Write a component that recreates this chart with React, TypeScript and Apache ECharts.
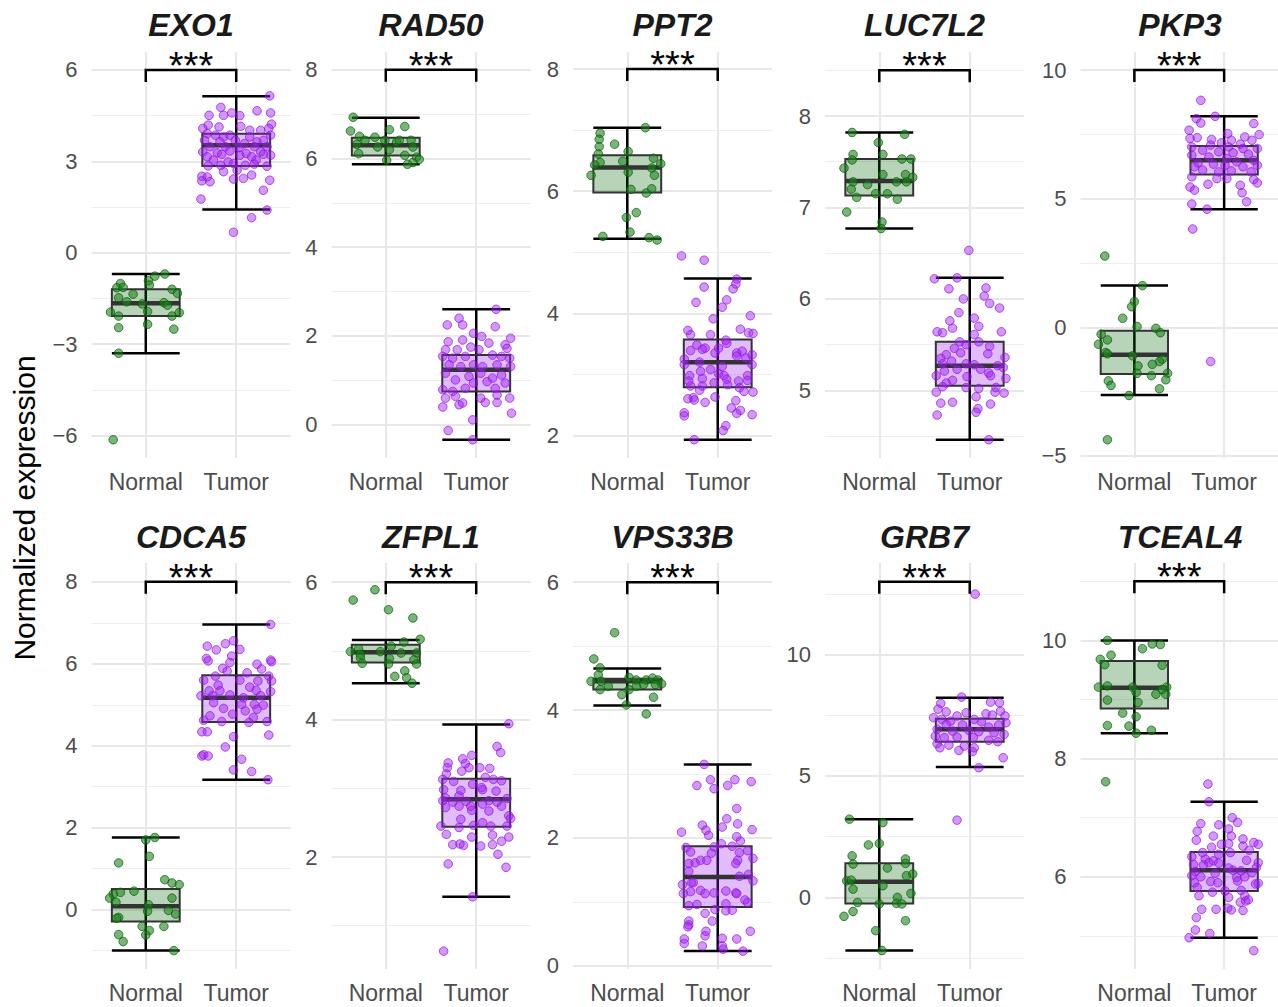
import { useEffect, useRef } from "react";
import * as echarts from "echarts";

// ---------- data ----------
const genes = ["EXO1", "RAD50", "PPT2", "LUC7L2", "PKP3", "CDCA5", "ZFPL1", "VPS33B", "GRB7", "TCEAL4"];
const groups = ["Normal", "Tumor"];
const yMin = [-6.74, -0.75, 1.63, 4.26, -5.08, -1.45, 0.37, -0.05, -2.95, 4.44];
const yMax = [6.59, 8.4, 8.28, 8.7, 10.7, 8.46, 6.28, 6.3, 13.77, 11.31];
const yStep = [3, 2, 2, 1, 5, 2, 2, 2, 5, 2];
const bracketY = [6, 8, 8, 8.5, 10, 8, 6, 6, 13, 11];
const significance = ["***", "***", "***", "***", "***", "***", "***", "***", "***", "***"];

// whisker low, Q1, median, Q3, whisker high
const normalBox = [
  [-3.3, -2.08, -1.66, -1.2, -0.7],
  [5.87, 6.07, 6.3, 6.47, 6.92],
  [5.22, 5.98, 6.39, 6.59, 7.04],
  [6.77, 7.13, 7.29, 7.53, 7.82],
  [-2.63, -1.82, -1.07, -0.13, 1.62],
  [-1.0, -0.29, 0.08, 0.5, 1.76],
  [4.53, 4.83, 4.98, 5.09, 5.16],
  [4.07, 4.32, 4.45, 4.49, 4.65],
  [-2.19, -0.25, 0.64, 1.41, 3.22],
  [8.43, 8.85, 9.2, 9.65, 10.0],
];
const tumorBox = [
  [1.42, 2.85, 3.53, 3.91, 5.14],
  [-0.34, 0.75, 1.24, 1.57, 2.6],
  [1.93, 2.79, 3.2, 3.57, 4.57],
  [4.46, 5.05, 5.27, 5.53, 6.23],
  [4.59, 5.94, 6.49, 7.05, 8.2],
  [3.17, 4.58, 5.17, 5.72, 6.96],
  [1.42, 2.44, 2.84, 3.14, 3.93],
  [0.23, 0.92, 1.39, 1.87, 3.15],
  [5.37, 6.41, 6.92, 7.36, 8.22],
  [4.97, 5.76, 6.11, 6.42, 7.27],
];

// points: [jitter offset from group centre, value]
const EXO1_N = [[0.21,-0.7],[0.1,-0.77],[0.03,-0.92],[-0.28,-1.01],[0.04,-1.06],[-0.32,-1.15],[-0.25,-1.14],[-0.14,-1.36],[0.29,-1.2],[0.35,-1.33],[-0.3,-1.48],[0.2,-1.64],[-0.04,-1.68],[0.24,-1.72],[-0.39,-1.95],[-0.3,-2.08],[0.02,-1.93],[0.37,-1.97],[0.29,-2.08],[0.02,-2.35],[-0.3,-2.46],[0.31,-2.51],[-0.3,-3.3],[-0.36,-6.14],[-0.21,-1.61]];
const EXO1_T = [[0.37,5.15],[0.38,4.59],[-0.17,4.77],[-0.3,4.51],[-0.14,4.51],[-0.05,4.59],[0.04,4.5],[0.23,4.66],[0.39,4.22],[-0.31,4.19],[-0.19,4.13],[-0.37,4.08],[0.05,4.15],[0.15,4.02],[0.27,4.02],[0.36,4.08],[-0.32,3.91],[-0.23,3.86],[-0.14,3.8],[-0.07,3.86],[0.15,3.8],[0.38,3.86],[-0.35,3.69],[-0.18,3.64],[-0.01,3.69],[0.09,3.58],[0.23,3.64],[0.3,3.69],[-0.29,3.48],[-0.12,3.48],[0.03,3.45],[0.2,3.48],[0.34,3.48],[-0.37,3.31],[-0.21,3.28],[-0.07,3.34],[0.11,3.26],[0.27,3.31],[0.38,3.2],[-0.32,3.15],[-0.16,3.23],[0.04,3.2],[0.17,3.15],[0.3,3.23],[-0.25,3.04],[-0.09,2.98],[0.22,3.04],[-0.31,2.85],[-0.17,2.87],[-0.03,2.93],[0.1,2.87],[0.2,2.91],[0.34,2.84],[-0.14,2.66],[0.01,2.71],[0.17,2.55],[-0.38,2.51],[-0.32,2.49],[-0.03,2.42],[0.08,2.44],[-0.38,2.36],[-0.29,2.33],[0.37,2.38],[0.3,2.05],[-0.39,1.76],[0.34,1.4],[0.17,1.15],[-0.03,0.67]];
const RAD50_N = [[-0.36,6.93],[-0.39,6.62],[0.21,6.72],[0.04,6.65],[-0.29,6.5],[-0.12,6.48],[-0.01,6.41],[-0.23,6.41],[0.12,6.37],[0.28,6.41],[-0.32,6.32],[-0.09,6.26],[0.04,6.2],[0.3,6.26],[-0.3,6.11],[0.21,6.07],[0.34,6.03],[0.01,5.96],[0.37,5.98],[0.3,5.91],[0.24,5.87],[0.15,6.41]];
const RAD50_T = [[0.22,2.6],[-0.19,2.4],[-0.32,2.25],[-0.15,2.25],[0.21,2.21],[-0.03,2.06],[0.06,1.99],[-0.15,1.91],[-0.31,1.87],[0.38,1.95],[0.14,1.84],[0.32,1.8],[-0.06,1.75],[-0.21,1.69],[-0.34,1.69],[0.03,1.69],[0.34,1.72],[-0.37,1.54],[-0.26,1.5],[-0.12,1.54],[0.18,1.57],[0.28,1.54],[0.37,1.5],[-0.3,1.35],[-0.17,1.31],[-0.03,1.35],[0.07,1.31],[0.23,1.35],[0.38,1.31],[-0.34,1.16],[-0.08,1.09],[0.05,1.16],[0.18,1.05],[0.28,1.12],[-0.23,1.01],[-0.03,0.94],[0.12,0.97],[0.32,0.94],[-0.37,0.79],[-0.26,0.75],[-0.12,0.82],[0.21,0.82],[0.23,0.67],[-0.34,0.6],[-0.23,0.64],[0.05,0.6],[0.37,0.6],[0.1,0.5],[-0.15,0.49],[-0.19,0.45],[0.23,0.5],[-0.37,0.4],[0.39,0.26],[-0.04,0.11],[-0.31,-0.13],[-0.04,-0.34]];
const PPT2_N = [[0.2,7.04],[-0.3,6.95],[-0.31,6.85],[-0.31,6.73],[-0.14,6.77],[0.01,6.65],[-0.32,6.61],[0.29,6.54],[-0.05,6.49],[-0.3,6.47],[-0.36,6.43],[0.37,6.45],[0.27,6.38],[0.01,6.31],[-0.4,6.26],[0.3,6.26],[0.04,6.03],[0.27,6.04],[0.21,5.97],[0.1,5.65],[-0.01,5.57],[0.03,5.33],[-0.27,5.26],[0.24,5.24],[0.33,5.2]];
const PPT2_T = [[-0.4,4.94],[-0.15,4.87],[0.21,4.56],[0.2,4.48],[0.17,4.4],[-0.15,4.43],[0.1,4.22],[-0.24,4.18],[0.05,4.1],[0.36,3.96],[-0.05,3.91],[0.25,3.74],[-0.33,3.72],[-0.3,3.65],[-0.08,3.65],[0.34,3.68],[0.39,3.67],[0.09,3.56],[-0.23,3.48],[-0.14,3.43],[-0.3,3.39],[-0.17,3.41],[0.01,3.43],[0.1,3.51],[0.27,3.38],[0.21,3.35],[0.38,3.32],[-0.37,3.25],[-0.03,3.35],[-0.2,3.2],[0.31,3.27],[0.21,3.3],[-0.37,3.16],[0.38,3.16],[0.05,3.13],[-0.08,3.08],[-0.19,3.05],[0.01,3.01],[-0.31,2.98],[0.07,2.98],[0.33,2.98],[-0.17,2.93],[-0.32,2.89],[0.1,2.92],[0.23,2.89],[0.33,2.9],[-0.04,2.86],[-0.3,2.81],[-0.17,2.81],[0.11,2.83],[0.24,2.78],[0.39,2.71],[0.29,2.72],[-0.2,2.74],[-0.27,2.62],[-0.33,2.6],[-0.26,2.58],[-0.14,2.54],[-0.03,2.63],[0.2,2.57],[0.15,2.45],[0.25,2.41],[0.21,2.36],[-0.37,2.37],[-0.37,2.32],[0.38,2.34],[0.09,2.16],[0.06,2.08],[-0.26,1.93]];
const LUC7L2_N = [[-0.3,7.82],[0.28,7.8],[-0.01,7.71],[-0.29,7.58],[0.04,7.58],[-0.3,7.52],[0.25,7.53],[0.35,7.53],[-0.39,7.43],[0.04,7.36],[0.29,7.36],[-0.29,7.28],[0.19,7.28],[0.37,7.33],[-0.13,7.25],[0.3,7.28],[-0.31,7.2],[-0.04,7.15],[0.09,7.15],[-0.25,7.11],[0.2,7.09],[-0.36,6.95],[0.03,6.84],[0.02,6.77]];
const LUC7L2_T = [[-0.01,6.53],[-0.39,6.22],[-0.14,6.23],[-0.23,6.11],[0.18,6.12],[0.16,6.03],[-0.07,6.0],[0.22,5.95],[0.33,5.9],[-0.12,5.85],[0.05,5.79],[-0.22,5.76],[0.1,5.7],[-0.19,5.68],[-0.36,5.64],[-0.3,5.63],[0.35,5.64],[0.05,5.61],[-0.11,5.53],[0.1,5.53],[0.22,5.48],[-0.17,5.46],[-0.04,5.5],[-0.26,5.39],[-0.1,5.41],[0.2,5.4],[-0.32,5.35],[0.39,5.36],[-0.2,5.32],[-0.3,5.29],[-0.04,5.29],[0.05,5.28],[0.31,5.27],[0.37,5.25],[-0.14,5.23],[0.12,5.23],[0.21,5.19],[-0.37,5.16],[-0.28,5.21],[-0.03,5.15],[0.23,5.16],[0.4,5.13],[-0.19,5.11],[-0.26,5.08],[-0.3,5.04],[-0.04,5.03],[0.1,5.02],[0.29,5.03],[-0.37,4.98],[0.28,4.98],[0.38,4.97],[0.07,4.93],[-0.32,4.86],[-0.19,4.87],[0.23,4.85],[0.09,4.8],[0.07,4.76],[-0.36,4.73],[0.21,4.46]];
const PKP3_N = [[-0.33,2.77],[0.09,1.62],[0.0,1.0],[-0.03,0.8],[-0.13,0.35],[0.03,0.03],[0.24,-0.04],[-0.37,-0.27],[0.29,-0.21],[-0.3,-0.49],[-0.4,-0.66],[-0.32,-0.98],[-0.3,-1.03],[-0.02,-1.11],[0.31,-1.24],[0.28,-1.33],[0.04,-1.5],[0.2,-1.44],[0.37,-1.79],[0.03,-1.79],[0.19,-1.88],[-0.29,-2.08],[-0.26,-2.26],[0.35,-2.04],[0.28,-2.39],[-0.06,-2.65],[-0.3,-4.37]];
const PKP3_T = [[-0.26,8.82],[-0.1,8.2],[-0.31,8.11],[-0.26,7.94],[-0.39,7.66],[0.33,7.92],[0.39,7.49],[0.04,7.53],[-0.38,7.34],[-0.3,7.37],[-0.14,7.3],[0.23,7.4],[0.08,7.27],[0.31,7.27],[-0.03,7.17],[-0.15,7.08],[0.18,7.12],[-0.36,7.01],[0.05,7.01],[0.21,6.95],[0.37,6.95],[-0.24,6.88],[-0.06,6.82],[0.1,6.78],[-0.36,6.69],[-0.17,6.62],[0.27,6.73],[0.03,6.56],[-0.29,6.39],[0.14,6.43],[0.33,6.49],[-0.12,6.34],[-0.33,6.24],[0.01,6.3],[0.21,6.24],[0.37,6.3],[-0.24,6.11],[-0.06,6.04],[0.08,6.08],[0.3,6.04],[-0.36,5.85],[-0.08,5.78],[0.03,5.78],[0.33,5.74],[0.37,5.61],[-0.38,5.45],[-0.33,5.33],[-0.18,5.56],[0.18,5.52],[0.2,5.23],[0.25,4.88],[-0.36,4.79],[-0.19,4.59],[-0.35,3.82],[-0.15,-1.33]];
const CDCA5_N = [[0.1,1.76],[0.0,1.7],[0.04,1.3],[-0.3,1.14],[0.21,0.73],[0.29,0.65],[0.37,0.61],[-0.13,0.45],[-0.28,0.42],[-0.36,0.38],[-0.4,0.28],[0.29,0.28],[-0.33,0.18],[0.03,0.12],[0.25,-0.02],[0.02,-0.04],[0.33,-0.11],[-0.3,-0.19],[-0.32,-0.21],[-0.04,-0.41],[0.04,-0.51],[0.2,-0.41],[-0.3,-0.61],[-0.25,-0.78],[0.0,-0.62],[0.31,-1.0]];
const CDCA5_T = [[0.38,6.96],[-0.03,6.56],[-0.12,6.49],[-0.32,6.43],[-0.22,6.34],[0.04,6.35],[-0.05,6.19],[-0.33,6.13],[-0.31,6.07],[0.38,6.09],[0.39,6.05],[-0.07,6.03],[0.23,5.99],[-0.15,5.89],[0.28,5.87],[-0.1,5.82],[0.12,5.78],[-0.36,5.6],[-0.23,5.7],[0.36,5.7],[0.39,5.58],[-0.2,5.48],[0.04,5.6],[0.24,5.58],[0.15,5.43],[-0.3,5.34],[-0.18,5.34],[0.22,5.35],[0.38,5.32],[-0.39,5.22],[-0.26,5.22],[-0.07,5.24],[0.27,5.22],[-0.25,5.05],[0.08,5.17],[0.06,5.01],[0.2,5.01],[0.3,4.99],[-0.14,4.91],[0.1,4.85],[0.23,4.89],[-0.29,4.73],[-0.04,4.77],[0.19,4.69],[-0.36,4.62],[-0.16,4.59],[0.14,4.57],[0.34,4.59],[-0.38,4.34],[-0.32,4.34],[0.36,4.26],[-0.03,4.22],[-0.12,3.97],[-0.38,3.75],[-0.36,3.78],[-0.31,3.75],[0.06,3.67],[-0.03,3.41],[0.17,3.37],[0.35,3.17]];
const ZFPL1_N = [[-0.12,5.89],[-0.36,5.74],[0.03,5.6],[0.3,5.48],[0.38,5.17],[0.2,5.13],[0.06,5.07],[-0.39,4.99],[-0.3,5.03],[-0.28,4.95],[-0.06,4.99],[0.17,4.97],[0.34,4.97],[-0.28,4.9],[0.04,4.89],[-0.26,4.82],[0.31,4.87],[0.34,4.81],[0.03,4.81],[0.21,4.71],[0.1,4.63],[0.23,4.61],[0.29,4.53]];
const ZFPL1_T = [[0.36,3.94],[0.23,3.61],[0.27,3.52],[-0.05,3.48],[-0.15,3.43],[-0.31,3.37],[-0.12,3.36],[-0.32,3.3],[-0.08,3.3],[-0.16,3.25],[0.04,3.3],[0.15,3.29],[-0.33,3.21],[0.1,3.16],[0.19,3.13],[-0.37,3.13],[0.28,3.11],[-0.25,3.1],[-0.04,3.06],[0.06,3.01],[0.22,2.96],[-0.36,2.98],[-0.17,2.97],[0.07,2.98],[-0.19,2.89],[-0.34,2.86],[0.34,2.85],[-0.37,2.82],[-0.26,2.8],[-0.11,2.81],[0.14,2.82],[0.23,2.8],[-0.06,2.74],[-0.19,2.74],[0.07,2.77],[-0.34,2.72],[0.28,2.74],[-0.05,2.68],[0.14,2.67],[0.36,2.6],[0.38,2.56],[-0.17,2.55],[0.07,2.5],[-0.03,2.46],[-0.39,2.45],[-0.19,2.43],[0.16,2.45],[0.34,2.45],[0.18,2.32],[0.36,2.29],[-0.05,2.29],[-0.33,2.33],[0.28,2.23],[0.18,2.18],[-0.26,2.18],[-0.18,2.19],[0.05,2.16],[-0.14,2.17],[0.24,2.04],[-0.31,1.9],[0.33,1.85],[-0.04,1.42],[-0.36,0.63]];
const VPS33B_N = [[-0.14,5.21],[-0.37,4.8],[-0.3,4.66],[-0.32,4.55],[-0.4,4.45],[-0.29,4.45],[0.02,4.51],[0.1,4.47],[0.21,4.47],[0.28,4.5],[0.34,4.47],[0.38,4.41],[0.31,4.4],[0.18,4.4],[0.1,4.37],[-0.21,4.37],[-0.3,4.32],[0.02,4.32],[-0.06,4.24],[0.29,4.2],[-0.01,4.08],[0.21,3.94]];
const VPS33B_T = [[-0.15,3.15],[-0.08,2.91],[0.19,2.91],[-0.23,2.82],[0.37,2.88],[-0.04,2.77],[0.11,2.82],[0.21,2.46],[0.1,2.3],[-0.17,2.2],[0.22,2.22],[0.05,2.17],[-0.13,2.12],[0.38,2.13],[-0.4,2.09],[-0.1,2.04],[0.21,2.02],[0.25,1.95],[0.04,1.91],[0.16,1.87],[-0.04,1.86],[-0.35,1.85],[0.33,1.8],[-0.3,1.78],[-0.07,1.76],[0.24,1.77],[-0.19,1.65],[-0.25,1.61],[-0.32,1.6],[0.22,1.65],[0.2,1.6],[0.39,1.68],[-0.12,1.65],[-0.32,1.48],[0.24,1.4],[0.34,1.43],[-0.29,1.3],[-0.27,1.3],[0.39,1.33],[-0.39,1.27],[-0.19,1.18],[-0.3,1.16],[-0.38,1.13],[-0.14,1.13],[-0.04,1.14],[0.09,1.17],[0.2,1.14],[0.21,1.13],[0.3,1.03],[0.33,0.99],[-0.23,0.96],[-0.32,0.94],[0.09,0.97],[-0.03,0.88],[0.09,0.86],[0.16,0.87],[-0.14,0.82],[-0.32,0.7],[-0.06,0.7],[-0.32,0.64],[-0.33,0.61],[-0.13,0.54],[0.36,0.54],[-0.14,0.47],[-0.37,0.42],[0.05,0.43],[0.21,0.42],[-0.37,0.35],[-0.17,0.31],[0.05,0.31],[0.06,0.26],[0.28,0.23]];
const GRB7_N = [[-0.33,3.22],[0.04,3.08],[-0.12,2.16],[0.0,2.22],[-0.3,1.71],[0.29,1.58],[-0.29,1.37],[0.29,1.4],[0.09,1.21],[0.37,0.96],[0.3,0.89],[-0.36,0.68],[-0.31,0.71],[0.04,0.48],[-0.29,0.34],[0.2,0.0],[0.35,0.16],[-0.24,-0.21],[0.19,-0.25],[0.25,-0.27],[0.0,-0.27],[-0.29,-0.58],[-0.39,-0.78],[0.29,-0.96],[-0.04,-1.37],[0.03,-2.19]];
const GRB7_T = [[0.06,12.49],[-0.09,8.25],[-0.32,7.99],[0.23,8.04],[0.33,8.01],[-0.35,7.75],[-0.26,7.64],[-0.14,7.47],[-0.04,7.6],[0.18,7.56],[0.25,7.51],[0.34,7.67],[0.39,7.47],[-0.4,7.4],[-0.31,7.33],[-0.21,7.26],[0.05,7.33],[0.13,7.23],[0.4,7.19],[-0.26,7.12],[-0.08,7.1],[0.21,7.01],[0.32,7.1],[-0.36,6.92],[-0.19,6.85],[-0.01,6.88],[0.1,6.82],[0.27,6.78],[0.38,6.71],[-0.38,6.64],[-0.28,6.58],[-0.14,6.6],[0.04,6.58],[0.21,6.47],[0.31,6.41],[-0.36,6.33],[-0.23,6.27],[-0.06,6.23],[0.05,6.16],[-0.33,6.16],[-0.12,6.05],[0.03,6.0],[0.37,5.75],[0.1,5.34],[-0.14,3.18]];
const TCEAL4_N = [[-0.3,10.0],[0.2,9.94],[0.29,9.93],[0.09,9.86],[-0.26,9.75],[-0.38,9.68],[-0.33,9.59],[0.31,9.58],[-0.4,9.21],[-0.3,9.23],[-0.02,9.21],[0.36,9.21],[0.31,9.17],[0.02,9.12],[0.35,9.09],[0.24,9.09],[-0.3,8.99],[0.04,8.95],[-0.13,8.77],[0.02,8.71],[-0.3,8.56],[-0.06,8.55],[0.19,8.48],[0.02,8.43],[-0.32,7.61]];
const TCEAL4_T = [[-0.18,7.57],[-0.17,7.27],[0.09,7.0],[0.15,6.92],[-0.26,6.9],[-0.06,6.88],[0.05,6.81],[-0.3,6.77],[-0.12,6.69],[0.08,6.69],[-0.31,6.62],[0.21,6.64],[-0.03,6.55],[0.05,6.56],[0.33,6.58],[0.38,6.55],[-0.14,6.5],[0.21,6.52],[-0.24,6.41],[0.07,6.41],[-0.06,6.38],[0.28,6.45],[-0.36,6.34],[-0.21,6.3],[-0.12,6.27],[0.38,6.24],[0.25,6.28],[-0.34,6.21],[-0.23,6.2],[-0.17,6.24],[-0.06,6.23],[0.05,6.15],[0.1,6.11],[0.36,6.16],[-0.32,6.09],[-0.1,6.06],[0.19,6.1],[0.31,6.07],[-0.36,6.02],[-0.26,6.0],[0.14,5.99],[0.23,6.0],[-0.33,5.9],[-0.15,5.92],[-0.07,5.9],[0.15,5.93],[0.38,5.89],[0.35,5.88],[-0.3,5.82],[-0.13,5.74],[0.01,5.76],[0.19,5.77],[0.23,5.68],[-0.28,5.68],[0.05,5.65],[0.18,5.57],[0.24,5.59],[0.27,5.61],[0.04,5.47],[0.08,5.44],[-0.09,5.45],[-0.25,5.45],[0.21,5.43],[-0.31,5.31],[-0.32,5.1],[-0.16,5.04],[-0.39,4.97],[0.33,4.75]];

const normalPoints = [EXO1_N, RAD50_N, PPT2_N, LUC7L2_N, PKP3_N, CDCA5_N, ZFPL1_N, VPS33B_N, GRB7_N, TCEAL4_N];
const tumorPoints = [EXO1_T, RAD50_T, PPT2_T, LUC7L2_T, PKP3_T, CDCA5_T, ZFPL1_T, VPS33B_T, GRB7_T, TCEAL4_T];

// ---------- layout & style ----------
const FONT = "'Liberation Sans', Arial, Helvetica, sans-serif";
const COL_LEFT = [91.5, 331.5, 573, 825, 1080.5];
const COL_W = 199;
const ROW_TOP = [52, 563];
const ROW_H = 406;
const TITLE_Y = [25, 537];
const BOX_W = 0.75;
const TIP_PX = 12;
const GROUP_FILL = ["rgba(0,100,0,0.28)", "rgba(160,32,240,0.30)"];
const POINT_FILL = ["rgba(34,130,34,0.75)", "rgba(160,32,240,0.58)"];
const POINT_EDGE = ["rgba(0,90,0,0.9)", "rgba(140,20,225,0.9)"];

const fmtNum = (v: number) => (v < 0 ? "\u2212" + String(Math.abs(v)) : String(v));

function buildOption() {
  const grid: any[] = [];
  const xAxis: any[] = [];
  const yAxis: any[] = [];
  const series: any[] = [];
  const graphic: any[] = [];

  genes.forEach((gene, i) => {
    const row = Math.floor(i / 5);
    const col = i % 5;
    const left = COL_LEFT[col];
    const top = ROW_TOP[row];
    grid.push({ left, top, width: COL_W, height: ROW_H });
    xAxis.push({
      type: "value",
      gridIndex: i,
      min: 0.4,
      max: 2.6,
      minInterval: 1,
      maxInterval: 1,
      axisLine: { show: false },
      axisTick: { show: false },
      axisLabel: {
        margin: 12,
        fontSize: 23,
        color: "#4d4d4d",
        fontFamily: FONT,
        showMinLabel: false,
        showMaxLabel: false,
        formatter: (v: number) => (Math.abs(v - 1) < 1e-6 ? groups[0] : Math.abs(v - 2) < 1e-6 ? groups[1] : ""),
      },
      splitLine: { show: true, showMinLine: false, showMaxLine: false, lineStyle: { color: "#e8e8e8", width: 2 } },
    });
    const step = yStep[i];
    yAxis.push({
      type: "value",
      gridIndex: i,
      min: yMin[i],
      max: yMax[i],
      minInterval: step,
      maxInterval: step,
      axisLine: { show: false },
      axisTick: { show: false },
      minorTick: { show: false, splitNumber: 2 },
      axisLabel: {
        margin: 14,
        fontSize: 22,
        color: "#4d4d4d",
        fontFamily: FONT,
        showMinLabel: false,
        showMaxLabel: false,
        formatter: (v: number) => {
          const k = v / step;
          return Math.abs(k - Math.round(k)) < 1e-6 ? fmtNum(Math.round(k) * step) : "";
        },
      },
      splitLine: { show: true, showMinLine: false, showMaxLine: false, lineStyle: { color: "#e8e8e8", width: 2 } },
      minorSplitLine: { show: true, lineStyle: { color: "#eeeeee", width: 1 } },
    });

    // boxes with whiskers
    series.push({
      type: "custom",
      xAxisIndex: i,
      yAxisIndex: i,
      z: 2,
      silent: true,
      data: [
        [1, ...normalBox[i]],
        [2, ...tumorBox[i]],
      ],
      encode: { x: 0, y: [1, 2, 3, 4, 5] },
      renderItem: (params: any, api: any) => {
        const x = api.value(0);
        const pLo = api.coord([x, api.value(1)]);
        const pQ1 = api.coord([x, api.value(2)]);
        const pMd = api.coord([x, api.value(3)]);
        const pQ3 = api.coord([x, api.value(4)]);
        const pHi = api.coord([x, api.value(5)]);
        const w = api.size([BOX_W, 0])[0];
        const cx = pLo[0];
        const g = params.dataIndex;
        const wStyle = { stroke: "#000", lineWidth: 2.5 };
        return {
          type: "group",
          children: [
            { type: "line", shape: { x1: cx, y1: pLo[1], x2: cx, y2: pHi[1] }, style: wStyle },
            { type: "line", shape: { x1: cx - w / 2, y1: pLo[1], x2: cx + w / 2, y2: pLo[1] }, style: wStyle },
            { type: "line", shape: { x1: cx - w / 2, y1: pHi[1], x2: cx + w / 2, y2: pHi[1] }, style: wStyle },
            {
              type: "rect",
              shape: { x: cx - w / 2, y: pQ3[1], width: w, height: pQ1[1] - pQ3[1] },
              style: { fill: GROUP_FILL[g], stroke: "#333333", lineWidth: 2 },
            },
            { type: "line", shape: { x1: cx - w / 2, y1: pMd[1], x2: cx + w / 2, y2: pMd[1] }, style: { stroke: "#333333", lineWidth: 4.5 } },
          ],
        };
      },
    });

    [normalPoints[i], tumorPoints[i]].forEach((pts, g) => {
      series.push({
        type: "scatter",
        xAxisIndex: i,
        yAxisIndex: i,
        z: 3,
        silent: true,
        symbolSize: 8.5,
        itemStyle: { color: POINT_FILL[g], borderColor: POINT_EDGE[g], borderWidth: 1 },
        data: pts.map((p) => [g + 1 + p[0], p[1]]),
      });
    });

    // significance bracket
    series.push({
      type: "custom",
      xAxisIndex: i,
      yAxisIndex: i,
      z: 4,
      silent: true,
      clip: false,
      data: [[1, 2, bracketY[i]]],
      encode: { x: [0, 1], y: 2 },
      renderItem: (params: any, api: any) => {
        const a = api.coord([api.value(0), api.value(2)]);
        const b = api.coord([api.value(1), api.value(2)]);
        return {
          type: "group",
          children: [
            {
              type: "polyline",
              shape: { points: [[a[0], a[1] + TIP_PX], a, b, [b[0], b[1] + TIP_PX]] },
              style: { stroke: "#000", lineWidth: 2.5, fill: "none" },
            },
            {
              type: "text",
              x: (a[0] + b[0]) / 2,
              y: a[1] - 4,
              style: { text: significance[i], font: `38px ${FONT}`, fill: "#000", align: "center", verticalAlign: "middle" },
            },
          ],
        };
      },
    });

    graphic.push({
      type: "text",
      x: left + COL_W / 2,
      y: TITLE_Y[row],
      style: {
        text: gene,
        font: `italic bold 32px ${FONT}`,
        fill: "#1a1a1a",
        align: "center",
        verticalAlign: "middle",
      },
    });
  });

  graphic.push({
    type: "text",
    x: 24,
    y: 508,
    rotation: Math.PI / 2,
    style: {
      text: "Normalized expression",
      font: `30px ${FONT}`,
      fill: "#000",
      align: "center",
      verticalAlign: "middle",
    },
  });

  return {
    animation: false,
    backgroundColor: "#ffffff",
    grid,
    xAxis,
    yAxis,
    series,
    graphic,
  };
}

export default function App() {
  const ref = useRef<HTMLDivElement>(null);
  useEffect(() => {
    if (!ref.current) return;
    const chart = echarts.init(ref.current, null, { renderer: "svg" });
    chart.setOption(buildOption() as any);
    return () => chart.dispose();
  }, []);
  return (
    <div
      ref={ref}
      style={{ position: "fixed", left: 0, top: 0, width: 1278, height: 1007, background: "#fff" }}
    />
  );
}
